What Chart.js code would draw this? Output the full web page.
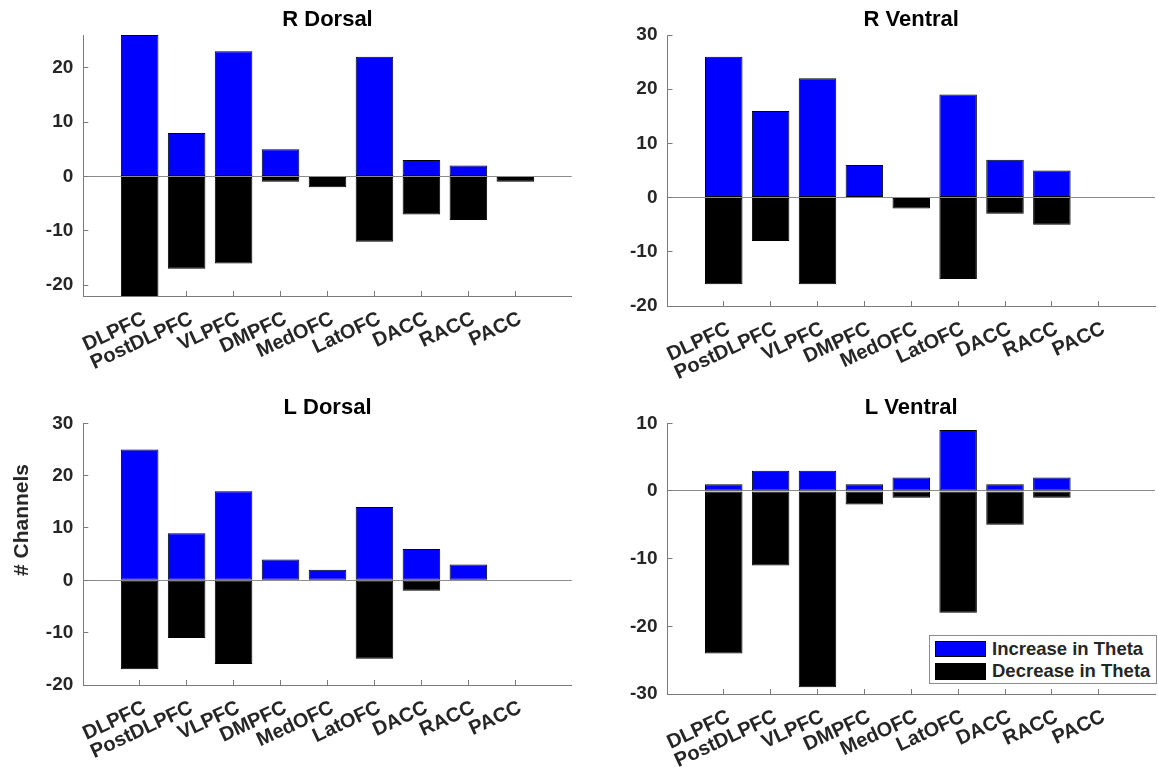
<!DOCTYPE html>
<html>
<head>
<meta charset="utf-8">
<title>Theta channels</title>
<script src="https://cdn.jsdelivr.net/npm/chart.js@4.4.1/dist/chart.umd.min.js"></script>
<style>
    html, body { margin: 0; padding: 0; background: #fff; }
    #figure { position: relative; width: 1158px; height: 769px; overflow: hidden; font-family: "Liberation Sans", Arial, sans-serif; }
    #figure canvas { position: absolute; }
    #yLabel { position: absolute; left: 21px; top: 520px; transform: translate(-50%, -50%) rotate(-90deg); font-weight: bold; font-size: 21px; color: #262626; white-space: nowrap; }
    #legend { position: absolute; left: 929px; top: 635px; width: 228px; height: 49px; box-sizing: border-box; border: 1px solid #8c8c8c; background: #fff; }
    .swatch { position: absolute; left: 5px; width: 51px; height: 16px; box-sizing: border-box; border: 1px solid #000; }
    .legendText { position: absolute; left: 62px; font-weight: bold; font-size: 18.5px; color: #262626; line-height: 22px; white-space: nowrap; }
</style>
</head>
<body>
<div id="figure">
    <canvas id="rDorsal" width="579" height="384" style="left:0px;top:0px"></canvas>
    <canvas id="rVentral" width="579" height="384" style="left:579px;top:0px"></canvas>
    <canvas id="lDorsal" width="579" height="385" style="left:0px;top:384px"></canvas>
    <canvas id="lVentral" width="579" height="385" style="left:579px;top:384px"></canvas>
    <div id="yLabel"># Channels</div>
    <div id="legend"></div>
</div>
<script>
const regions = ["DLPFC", "PostDLPFC", "VLPFC", "DMPFC", "MedOFC", "LatOFC", "DACC", "RACC", "PACC"];
const seriesNames = ["Increase in Theta", "Decrease in Theta"];
const seriesColors = ["#0000ff", "#000000"];

const rDorsalInc = [26, 8, 23, 5, 0, 22, 3, 2, 0];
const rDorsalDec = [-23, -17, -16, -1, -2, -12, -7, -8, -1];
const rVentralInc = [26, 16, 22, 6, 0, 19, 7, 5, 0];
const rVentralDec = [-16, -8, -16, 0, -2, -15, -3, -5, 0];
const lDorsalInc = [25, 9, 17, 4, 2, 14, 6, 3, 0];
const lDorsalDec = [-17, -11, -16, 0, 0, -15, -2, 0, 0];
const lVentralInc = [1, 3, 3, 1, 2, 9, 1, 2, 0];
const lVentralDec = [-24, -11, -29, -2, -1, -18, -5, -1, 0];

const rDorsalRange = [-22, 26];
const rVentralRange = [-20, 30];
const lDorsalRange = [-20, 30];
const lVentralRange = [-30, 10];
const yStep = 10;
const xRange = [-0.2, 10.2];

const axisColor = "#7a7a7a";
const baselineColor = "#8c8c8c";
const textColor = "#262626";

Chart.defaults.font.family = "'Liberation Sans', Arial, Helvetica, sans-serif";

function buildPanel(canvasId, title, incValues, decValues, yRange, box) {
    const values = [incValues, decValues];
    const datasets = values.map(function (series, k) {
        return {
            label: seriesNames[k],
            data: series.map(function (v, i) { return {x: i + 1, y: v}; }),
            backgroundColor: seriesColors[k],
            borderColor: "#000000",
            borderWidth: 1,
            borderSkipped: false,
            categoryPercentage: 0.8,
            barPercentage: 1,
            clip: {left: 5, top: 5, right: 5, bottom: 0}
        };
    });

    return new Chart(document.getElementById(canvasId), {
        type: "bar",
        data: {datasets: datasets},
        options: {
            responsive: false,
            animation: false,
            events: [],
            layout: {padding: {left: 0, right: box.padRight, top: 0, bottom: 0}},
            plugins: {
                legend: {display: false},
                tooltip: {enabled: false},
                title: {
                    display: true,
                    text: title,
                    fullSize: false,
                    color: "#000000",
                    font: {size: 22, weight: "bold"},
                    padding: {top: box.plotTop - 15.5 - 13.2, bottom: 2.3}
                }
            },
            scales: {
                x: {
                    type: "linear",
                    min: xRange[0],
                    max: xRange[1],
                    offset: false,
                    stacked: true,
                    z: 1,
                    afterBuildTicks: function (scale) {
                        scale.ticks = regions.map(function (r, i) { return {value: i + 1}; });
                    },
                    afterFit: function (scale) { scale.height = box.xHeight; },
                    grid: {offset: false, drawOnChartArea: false, drawTicks: true, tickLength: -5, tickColor: axisColor},
                    border: {color: axisColor, width: 1},
                    ticks: {
                        autoSkip: false,
                        minRotation: 25,
                        maxRotation: 25,
                        padding: 16,
                        labelOffset: 5,
                        color: textColor,
                        font: {size: 20, weight: "bold"},
                        callback: function (v) { return regions[v - 1]; }
                    }
                },
                y: {
                    min: yRange[0],
                    max: yRange[1],
                    stacked: true,
                    afterFit: function (scale) { scale.width = box.yWidth; },
                    grid: {
                        color: function (c) { return c.tick && c.tick.value === 0 ? baselineColor : "rgba(0,0,0,0)"; },
                        tickColor: axisColor,
                        tickLength: -5
                    },
                    border: {color: axisColor, width: 1},
                    ticks: {
                        stepSize: yStep,
                        includeBounds: false,
                        padding: 15,
                        color: textColor,
                        font: {size: 19, weight: "bold"}
                    }
                }
            }
        }
    });
}

function buildLegend() {
    let html = "";
    const swatchTops = [5, 27];
    for (let k = 0; k < seriesNames.length; k++) {
        html += "<div class='swatch' style='top:" + swatchTops[k] + "px;height:" + (k === 0 ? 16 : 17) + "px;background:" + seriesColors[k] + "'></div>";
        html += "<div class='legendText' style='top:" + (swatchTops[k] - 3) + "px'>" + seriesNames[k] + "</div>";
    }
    document.getElementById("legend").innerHTML = html;
}

buildPanel("rDorsal", "R Dorsal", rDorsalInc, rDorsalDec, rDorsalRange, {yWidth: 83.3, padRight: 7.3, plotTop: 35, xHeight: 88});
buildPanel("rVentral", "R Ventral", rVentralInc, rVentralDec, rVentralRange, {yWidth: 88.5, padRight: 3, plotTop: 35, xHeight: 78});
buildPanel("lDorsal", "L Dorsal", lDorsalInc, lDorsalDec, lDorsalRange, {yWidth: 83.3, padRight: 7.3, plotTop: 39.3, xHeight: 84});
buildPanel("lVentral", "L Ventral", lVentralInc, lVentralDec, lVentralRange, {yWidth: 88.5, padRight: 3, plotTop: 39.3, xHeight: 75});
buildLegend();
</script>
</body>
</html>
